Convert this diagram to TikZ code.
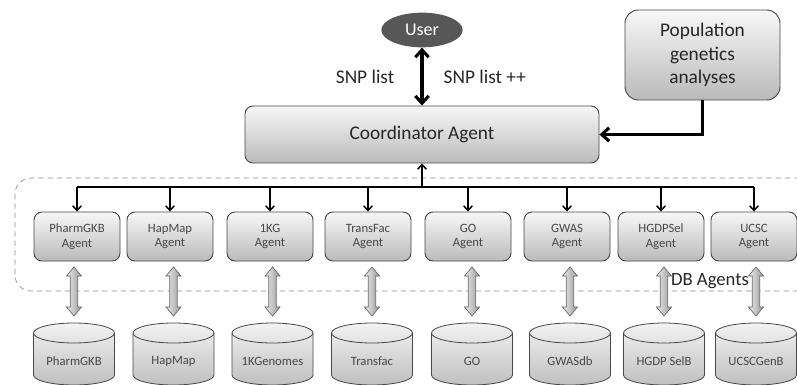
\documentclass[tikz,border=0pt]{standalone}
\usepackage{fontspec}
\setmainfont{Carlito}
\usetikzlibrary{arrows.meta,shapes.geometric,calc}

\tikzset{
  box/.style={draw=black!72, line width=0.7pt, rounded corners=6pt,
    top color=black!3, bottom color=black!27, align=center, inner sep=0pt},
  agentbox/.style={box, minimum width=64.5pt, minimum height=36.75pt,
    font=\fontsize{9.5}{11}\selectfont, text=black!72},
  bigfont/.style={font=\fontsize{14.5}{17.5}\selectfont, text=black!85},
  thickarrow/.style={line width=2.3pt, black},
  busline/.style={line width=1.1pt, black},
  cylfill/.style={draw=black!72, line width=0.6pt, top color=black!5, bottom color=black!25},
  cylline/.style={draw=black!72, line width=0.6pt},
  cyltext/.style={font=\fontsize{9.5}{11}\selectfont, text=black!72},
  dblfill/.style={draw=black!60, line width=0.5pt, left color=black!8, right color=black!40},
}

\newcommand\dbcyl[3]{%
  \shade[cylfill] (#2-40.5,333) -- (#2-40.5,375)
     arc[start angle=180,end angle=360,x radius=30.375pt,y radius=7.5pt]
     -- (#2+40.5,333)
     arc[start angle=0,end angle=180,x radius=30.375pt,y radius=7.5pt] -- cycle;
  \draw[cylline] (#2-40.5,333) arc[start angle=180,end angle=360,x radius=30.375pt,y radius=7.5pt];
  \node[cyltext] (#1) at (#2,361) {#3};
  \coordinate (#1top) at (#2,323);
}
\newcommand\dblarr[1]{%
  \shade[dblfill] ($(#1top)+(0,-7)$) -- ++(7.5,-9) -- ++(-3.8,0) -- ++(0,-31)
    -- ++(3.8,0) -- ++(-7.5,-9) -- ++(-7.5,9) -- ++(3.8,0) -- ++(0,31)
    -- ++(-3.8,0) -- cycle;
}

\begin{document}
\begin{tikzpicture}[x=0.75pt,y=-0.75pt]
\useasboundingbox (0,0) rectangle (797,385);
\clip (0,0) rectangle (797,385);

% dashed group
\draw[black!45, line width=0.5pt, dash pattern=on 4pt off 3pt, rounded corners=12pt]
  (15,178) rectangle (840,291);

% user and coordinator
\node[ellipse, fill=black!66, minimum width=61pt, minimum height=26pt,
  text=white, font=\fontsize{13.5}{16}\selectfont] (user) at (422,30) {User};
\node[box, bigfont, minimum width=265.5pt, minimum height=42.75pt] (coord) at (422,134.5) {Coordinator Agent};
\node[box, bigfont, rounded corners=10pt, minimum width=116.25pt, minimum height=67.5pt] (pop) at (702.5,55) {Population\\genetics\\analyses};

\draw[thickarrow, {Straight Barb[length=5.5pt,width=10pt]}-{Straight Barb[length=5.5pt,width=10pt]}] (user) -- (coord);
\node[bigfont, anchor=east] (snp1) at (399,77) {SNP list};
\node[bigfont, anchor=west] (snp2) at (439,77) {SNP list ++};
\draw[thickarrow, -{Straight Barb[length=5.5pt,width=10pt]}] (pop.south) |- (coord.east);

% agents
\node[agentbox] (a1) at (77,236.5) {PharmGKB\\Agent};
\node[agentbox] (a2) at (170,236.5) {HapMap\\Agent};
\node[agentbox] (a3) at (270,236.5) {1KG\\Agent};
\node[agentbox] (a4) at (368,236.5) {TransFac\\Agent};
\node[agentbox] (a5) at (468,236.5) {GO\\Agent};
\node[agentbox] (a6) at (567,236.5) {GWAS\\Agent};
\node[agentbox] (a7) at (661,236.5) {HGDPSel\\Agent};
\node[agentbox] (a8) at (754,236.5) {UCSC\\Agent};

\coordinate (bus) at (422,187);
\draw[busline, -{Straight Barb[length=3.5pt,width=6.5pt]}] (bus) -- (coord.south);
\draw[busline] (a1.north |- bus) -- (a8.north |- bus);
\foreach \i in {1,...,8}{
  \draw[busline, -{Straight Barb[length=3.5pt,width=6.5pt]}] (a\i.north |- bus) -- (a\i.north);
}

% databases
\dbcyl{c1}{74}{PharmGKB}
\dbcyl{c2}{173.5}{HapMap}
\dbcyl{c3}{272.5}{1KGenomes}
\dbcyl{c4}{372}{Transfac}
\dbcyl{c5}{472}{GO}
\dbcyl{c6}{570}{GWASdb}
\dbcyl{c7}{664}{HGDP SelB}
\dbcyl{c8}{756}{UCSCGenB}

\foreach \i in {1,...,8}{\dblarr{c\i}}

\node[font=\fontsize{14}{16}\selectfont, text=black!85] (dblabel) at (710,281) {DB Agents};
\end{tikzpicture}
\end{document}
